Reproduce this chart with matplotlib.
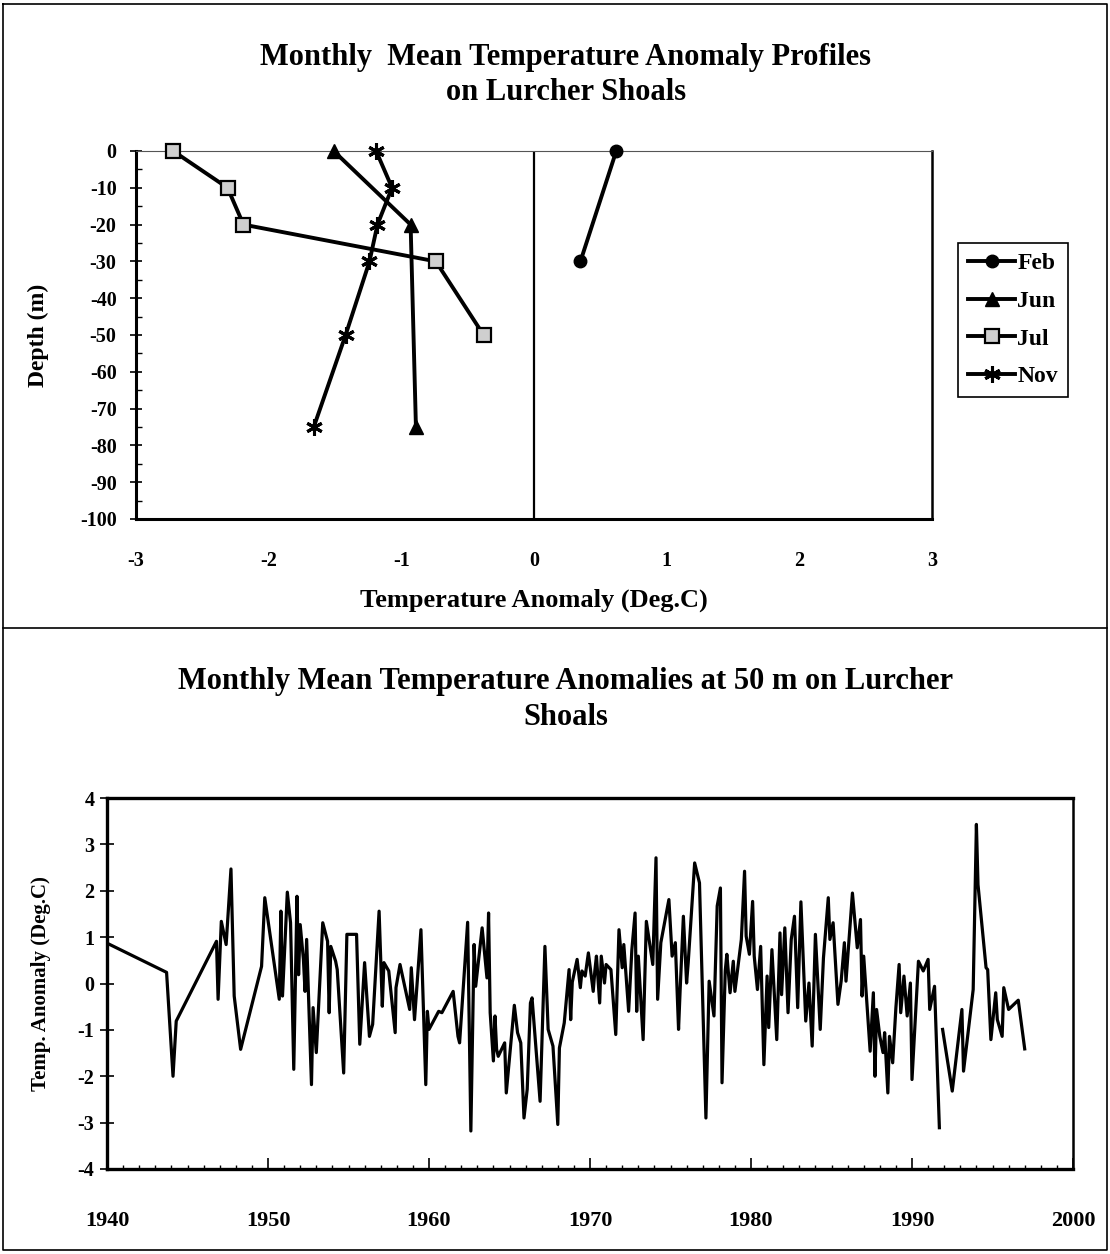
import numpy as np
import matplotlib
matplotlib.use("Agg")
import matplotlib.pyplot as plt
from matplotlib.lines import Line2D
from matplotlib.ticker import MultipleLocator

plt.rcParams['font.family'] = ['Liberation Serif', 'DejaVu Serif']
plt.rcParams['font.weight'] = 'bold'
plt.rcParams['axes.unicode_minus'] = False

# --- profile data (depth in m, anomaly in deg C) ---
feb_depth = [0, -30]
feb_anom = [0.62, 0.35]
jun_depth = [0, -20, -75]
jun_anom = [-1.51, -0.93, -0.89]
jul_depth = [0, -10, -20, -30, -50]
jul_anom = [-2.72, -2.31, -2.19, -0.74, -0.38]
nov_depth = [0, -10, -20, -30, -50, -75]
nov_anom = [-1.19, -1.07, -1.18, -1.24, -1.42, -1.66]

# --- monthly anomalies at 50 m ---
year = [
    1940.0, 1943.7, 1944.1, 1944.3, 1946.8, 1946.9, 1947.1, 1947.4, 1947.7, 1947.9,
    1948.3, 1949.6, 1949.8, 1950.7, 1950.8, 1950.9, 1951.2, 1951.4, 1951.6, 1951.8,
    1951.9, 1952.0, 1952.2, 1952.3, 1952.4, 1952.7, 1952.8, 1953.0, 1953.4, 1953.7,
    1953.8, 1953.9, 1954.2, 1954.3, 1954.7, 1954.9, 1955.5, 1955.7, 1956.0, 1956.3,
    1956.5, 1956.9, 1957.1, 1957.2, 1957.5, 1957.9, 1957.95, 1958.2, 1958.8, 1958.9,
    1959.1, 1959.5, 1959.8, 1959.9, 1960.0, 1960.6, 1960.8, 1961.5, 1961.8, 1961.9,
    1962.4, 1962.6, 1962.8, 1962.9, 1963.3, 1963.6, 1963.7, 1963.8, 1964.0, 1964.1,
    1964.2, 1964.3, 1964.7, 1964.8, 1965.3, 1965.5, 1965.7, 1965.9, 1966.1, 1966.3,
    1966.4, 1966.9, 1967.2, 1967.4, 1967.7, 1968.0, 1968.1, 1968.4, 1968.7, 1968.8,
    1968.9, 1969.2, 1969.4, 1969.5, 1969.7, 1969.9, 1970.2, 1970.3, 1970.4, 1970.6,
    1970.7, 1970.9, 1971.0, 1971.3, 1971.6, 1971.8, 1972.0, 1972.1, 1972.4, 1972.6,
    1972.8, 1972.9, 1973.0, 1973.3, 1973.5, 1973.9, 1974.1, 1974.2, 1974.4, 1974.9,
    1975.1, 1975.3, 1975.5, 1975.6, 1975.8, 1976.0, 1976.1, 1976.5, 1976.8, 1977.2,
    1977.4, 1977.7, 1977.9, 1978.1, 1978.2, 1978.4, 1978.5, 1978.7, 1978.9, 1979.0,
    1979.4, 1979.6, 1979.7, 1979.9, 1980.1, 1980.2, 1980.4, 1980.6, 1980.8, 1981.0,
    1981.1, 1981.3, 1981.6, 1981.8, 1981.9, 1982.1, 1982.3, 1982.5, 1982.7, 1982.9,
    1983.1, 1983.4, 1983.6, 1983.8, 1984.0, 1984.3, 1984.5, 1984.8, 1984.9, 1985.1,
    1985.4, 1985.6, 1985.8, 1985.9, 1986.3, 1986.6, 1986.8, 1986.9, 1987.0, 1987.4,
    1987.6, 1987.7, 1987.8, 1988.0, 1988.2, 1988.3, 1988.5, 1988.6, 1988.8, 1989.0,
    1989.2, 1989.3, 1989.5, 1989.7, 1989.9, 1990.0, 1990.4, 1990.7, 1991.0, 1991.1,
    1991.4, 1991.7, 1991.8, 1991.9, 1992.5, 1993.1, 1993.2, 1993.8, 1994.0, 1994.1,
    1994.6, 1994.7, 1994.9, 1995.2, 1995.3, 1995.6, 1995.7, 1996.0, 1996.6, 1997.0,
]
anom = [
    0.87, 0.24, -2.00, -0.81, 0.91, -0.34, 1.34, 0.84, 2.47, -0.27,
    -1.42, 0.37, 1.85, -0.34, 1.56, -0.27, 1.97, 1.31, -1.85, 1.88,
    0.19, 1.27, 0.52, -0.17, 0.95, -2.18, -0.52, -1.49, 1.31, 0.91,
    -0.63, 0.80, 0.48, 0.30, -1.93, 1.06, 1.06, -1.31, 0.45, -1.14,
    -0.88, 1.56, -0.49, 0.45, 0.27, -1.06, -0.09, 0.41, -0.56, 0.34,
    -0.78, 1.16, -2.18, -0.60, -0.99, -0.60, -0.63, -0.17, -1.14, -1.28,
    1.32, -3.18, 0.84, -0.06, 1.20, 0.12, 1.52, -0.63, -1.67, -0.70,
    -1.42, -1.57, -1.28, -2.36, -0.47, -1.06, -1.28, -2.90, -2.28, -0.42,
    -0.31, -2.54, 0.80, -0.99, -1.35, -3.04, -1.39, -0.85, 0.30, -0.78,
    0.03, 0.52, -0.09, 0.27, 0.16, 0.66, -0.17, 0.27, 0.59, -0.42,
    0.59, 0.01, 0.41, 0.30, -1.10, 1.16, 0.34, 0.84, -0.60, 0.73,
    1.52, -0.60, 0.59, -1.21, 1.34, 0.41, 2.71, -0.34, 0.88, 1.81,
    0.59, 0.88, -0.99, -0.13, 1.45, 0.01, 0.45, 2.60, 2.17, -2.90,
    0.05, -0.70, 1.67, 2.06, -2.14, 0.27, 0.63, -0.20, 0.48, -0.17,
    0.95, 2.42, 1.02, 0.63, 1.77, 0.59, -0.13, 0.80, -1.75, 0.16,
    -0.95, 0.73, -1.21, 1.09, -0.24, 1.20, -0.63, 0.95, 1.45, -0.52,
    1.76, -0.81, 0.01, -1.35, 1.06, -0.99, 0.55, 1.85, 0.95, 1.31,
    -0.45, 0.05, 0.88, 0.05, 1.95, 0.77, 1.38, -0.27, 0.59, -1.46,
    -0.20, -2.00, -0.56, -1.14, -1.49, -1.06, -2.36, -1.14, -1.71, -0.52,
    0.41, -0.63, 0.16, -0.70, 0.01, -2.07, 0.48, 0.27, 0.52, -0.56,
    -0.06, -3.11, np.nan, -0.99, -2.32, -0.56, -1.89, -0.13, 3.43, 2.13,
    0.34, 0.30, -1.21, -0.20, -0.78, -1.14, -0.09, -0.56, -0.36, -1.41,
]

fig = plt.figure(figsize=(11.1, 12.54), dpi=100)

# frame around the two panels
fig.add_artist(Line2D([0.003, 0.997, 0.997, 0.003, 0.003],
                      [0.997, 0.997, 0.003, 0.003, 0.997],
                      transform=fig.transFigure, color='black', lw=1.2))
fig.add_artist(Line2D([0.003, 0.997], [1 - 628 / 1254] * 2,
                      transform=fig.transFigure, color='black', lw=1.2))

# ---------------- top panel: profiles ----------------
ax1 = fig.add_axes([136 / 1110, 1 - 519 / 1254, 796 / 1110, 368 / 1254])
lw = 2.8
ax1.plot(feb_anom, feb_depth, color='black', lw=lw, marker='o', ms=9,
         label='Feb', clip_on=False, zorder=4)
ax1.plot(jun_anom, jun_depth, color='black', lw=lw, marker='^', ms=10,
         label='Jun', clip_on=False, zorder=4)
ax1.plot(jul_anom, jul_depth, color='black', lw=lw, marker='s', ms=10,
         markerfacecolor='#cfcfcf', markeredgecolor='black', mew=1.6,
         label='Jul', clip_on=False, zorder=4)
ax1.plot(nov_anom, nov_depth, color='black', lw=lw, marker=(6, 2, 0), ms=12,
         mew=2.2, label='Nov', clip_on=False, zorder=4)
ax1.axvline(0, color='black', lw=1.6, zorder=2)

ax1.set_xlim(-3, 3)
ax1.set_ylim(-100, 0)
ax1.set_xticks([-3, -2, -1, 0, 1, 2, 3])
ax1.set_xticklabels(['-3', '-2', '-1', '0', '1', '2', '3'])
ax1.yaxis.set_major_locator(MultipleLocator(10))
ax1.yaxis.set_minor_locator(MultipleLocator(5))
ax1.tick_params(axis='y', which='major', direction='inout', length=8, width=1.2,
                pad=10, labelsize=14.5)
ax1.tick_params(axis='y', which='minor', direction='in', length=4, width=1)
ax1.tick_params(axis='x', which='major', direction='in', length=0, pad=23,
                labelsize=14.5)
for s in ['left', 'bottom']:
    ax1.spines[s].set_linewidth(2.2)
ax1.spines['right'].set_linewidth(1.8)
ax1.spines['top'].set_linewidth(0.8)
ax1.spines['top'].set_color('#555555')
ax1.set_xlabel('Temperature Anomaly (Deg.C)', fontsize=19, fontweight='bold')
ax1.xaxis.set_label_coords(0.5, -0.19)
ax1.set_ylabel('Depth (m)', fontsize=17, fontweight='bold')
ax1.yaxis.set_label_coords(-0.109, 0.5)

leg = ax1.legend(loc='upper left', bbox_to_anchor=(958 / 1110, 1 - 243 / 1254),
                 bbox_transform=fig.transFigure, borderaxespad=0,
                 fancybox=False, edgecolor='black', framealpha=1,
                 prop={'family': 'Liberation Serif', 'weight': 'bold', 'size': 17},
                 handlelength=2.0, handletextpad=0.1, labelspacing=0.68,
                 borderpad=0.42)
leg.get_frame().set_linewidth(1.2)

fig.text(566 / 1110, 1 - 58 / 1254, 'Monthly  Mean Temperature Anomaly Profiles',
         ha='center', va='center', fontsize=22, fontweight='bold')
fig.text(566 / 1110, 1 - 93 / 1254, 'on Lurcher Shoals',
         ha='center', va='center', fontsize=22, fontweight='bold')

# ---------------- bottom panel: time series ----------------
ax2 = fig.add_axes([107 / 1110, 1 - 1169 / 1254, 966 / 1110, 371 / 1254])
ax2.plot(year, anom, color='black', lw=2.3)
ax2.set_xlim(1940, 2000)
ax2.set_ylim(-4, 4)
ax2.xaxis.set_major_locator(MultipleLocator(10))
ax2.xaxis.set_minor_locator(MultipleLocator(1))
ax2.yaxis.set_major_locator(MultipleLocator(1))
ax2.tick_params(axis='x', which='major', direction='in', length=8, width=1.2,
                pad=30, labelsize=16)
ax2.tick_params(axis='x', which='minor', direction='in', length=3, width=1)
ax2.tick_params(axis='y', which='major', direction='inout', length=10, width=1.2,
                pad=4, labelsize=14.5)
for s in ['left', 'bottom', 'top']:
    ax2.spines[s].set_linewidth(2.4)
ax2.spines['right'].set_linewidth(1.8)
ax2.set_ylabel('Temp. Anomaly (Deg.C)', fontsize=15, fontweight='bold')
ax2.yaxis.set_label_coords(-0.058, 0.5)

fig.text(566 / 1110, 1 - 682 / 1254,
         'Monthly Mean Temperature Anomalies at 50 m on Lurcher',
         ha='center', va='center', fontsize=22, fontweight='bold')
fig.text(566 / 1110, 1 - 718 / 1254, 'Shoals',
         ha='center', va='center', fontsize=22, fontweight='bold')

fig.savefig('out.png', dpi=100)
